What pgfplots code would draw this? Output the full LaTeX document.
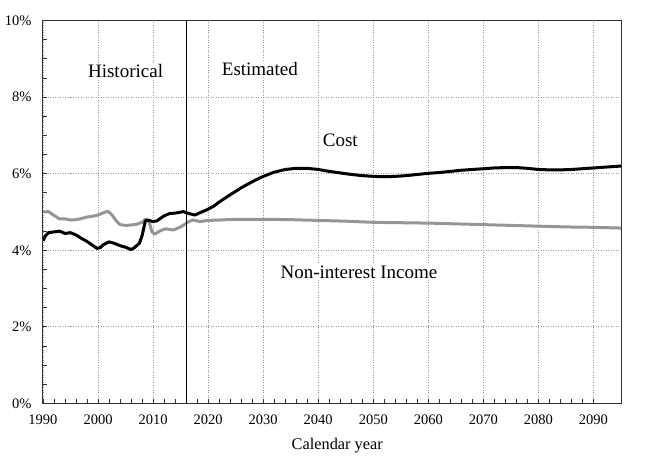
\documentclass[border=0pt]{standalone}
\usepackage{fontspec}
\setmainfont{Liberation Serif}
\usepackage{pgfplots}
\pgfplotsset{compat=1.18}
\definecolor{income}{RGB}{150,150,150}
\begin{document}
\begin{tikzpicture}
\begin{axis}[
  width=578pt, height=383pt, scale only axis,
  xmin=1990, xmax=2095, ymin=0, ymax=10,
  xtick={1990,2000,...,2090}, ytick={0,2,...,10},
  minor x tick num=4, minor y tick num=3,
  tick pos=left, tick align=inside,
  major tick length=4pt, minor tick length=4pt,
  tick style={black!80, line width=0.8pt},
  axis line style={black!80, line width=1pt},
  xmajorgrids, ymajorgrids,
  grid style={gray!80, line width=0.8pt, dash pattern=on 1pt off 1.5pt},
  /pgf/number format/assume math mode=true,
  /pgf/number format/1000 sep={},
  yticklabel={\pgfmathprintnumber{\tick}\%},
  tick label style={font=\fontsize{14.5}{16}\selectfont},
  xticklabel style={anchor=base, inner sep=0pt, yshift=-21.5pt},
  yticklabel style={anchor=east, inner sep=0pt, xshift=-11.3pt},
  xlabel={Calendar year},
  xlabel style={font=\fontsize{16.3}{18}\selectfont, anchor=base,
    at={(axis description cs:0.509,0)}, yshift=-46.5pt},
]
% non-interest income
\addplot[income, line width=3pt, line join=round, mark=none] coordinates {
(1990,5.00) (1991,5.01) (1992,4.91) (1993,4.82) (1994,4.82) (1995,4.79)
(1996,4.80) (1997,4.83) (1998,4.87) (1999,4.89) (2000,4.92) (2001,4.98)
(2001.8,5.02) (2002.5,4.93) (2003.3,4.77) (2004,4.67) (2005,4.65) (2006,4.66)
(2007,4.68) (2008,4.73) (2008.6,4.81) (2009.3,4.73) (2009.8,4.48) (2010.3,4.42)
(2011.3,4.51) (2012.3,4.56) (2013.7,4.53) (2015,4.61) (2016.5,4.75) (2017.3,4.79)
(2018.5,4.75) (2020,4.78) (2022,4.79) (2025,4.81) (2030,4.81) (2035,4.80)
(2040,4.78) (2045,4.76) (2050,4.73) (2055,4.72) (2060,4.71) (2065,4.69)
(2070,4.67) (2075,4.65) (2080,4.63) (2085,4.61) (2090,4.60) (2095,4.58)
};
% cost
\addplot[black, line width=3pt, line join=round, mark=none] coordinates {
(1990,4.25) (1990.5,4.39) (1991,4.46) (1992,4.48) (1993,4.50) (1994,4.44)
(1995,4.46) (1996,4.40) (1997,4.31) (1998,4.23) (1999,4.13) (1999.8,4.05)
(2000.4,4.07) (2001,4.15) (2002,4.22) (2003,4.18) (2004,4.12) (2005,4.08)
(2006,4.02) (2006.6,4.07) (2007.5,4.18) (2008,4.38) (2008.6,4.77) (2009,4.79)
(2010,4.75) (2010.7,4.77) (2011.5,4.85) (2012,4.90) (2013,4.96) (2014,4.97)
(2015.5,5.01) (2016.5,4.96) (2017.6,4.92) (2018.5,4.98) (2019.8,5.06) (2021,5.15)
(2022,5.26) (2024,5.45) (2026,5.63) (2028,5.79) (2030,5.93) (2032,6.04)
(2034,6.11) (2036,6.14) (2038,6.14) (2040,6.11) (2042,6.06) (2044,6.02)
(2046,5.98) (2048,5.95) (2050,5.93) (2052,5.92) (2054,5.93) (2056,5.95)
(2058,5.98) (2060,6.01) (2062,6.03) (2064,6.06) (2066,6.09) (2068,6.11)
(2070,6.13) (2072,6.15) (2074,6.16) (2076,6.16) (2078,6.14) (2080,6.11)
(2082,6.10) (2084,6.10) (2086,6.11) (2088,6.13) (2090,6.15) (2092,6.17)
(2095,6.20)
};
\draw[black, line width=0.8pt] (axis cs:2016,0) -- (axis cs:2016,10);
\begin{scope}[every node/.style={fill=white, inner sep=1pt, font=\fontsize{19}{21}\selectfont}]
\node at (axis cs:2005,8.69) {Historical};
\node at (axis cs:2029.4,8.73) {Estimated};
\node at (axis cs:2044,6.86) {Cost};
\node at (axis cs:2047.4,3.42) {Non-interest Income};
\end{scope}
\coordinate (sw) at (rel axis cs:0,0);
\end{axis}
\pgfresetboundingbox
\path[use as bounding box] (sw) ++(-43pt,-64.5pt) rectangle ++(648pt,468pt);
\end{tikzpicture}
\end{document}
